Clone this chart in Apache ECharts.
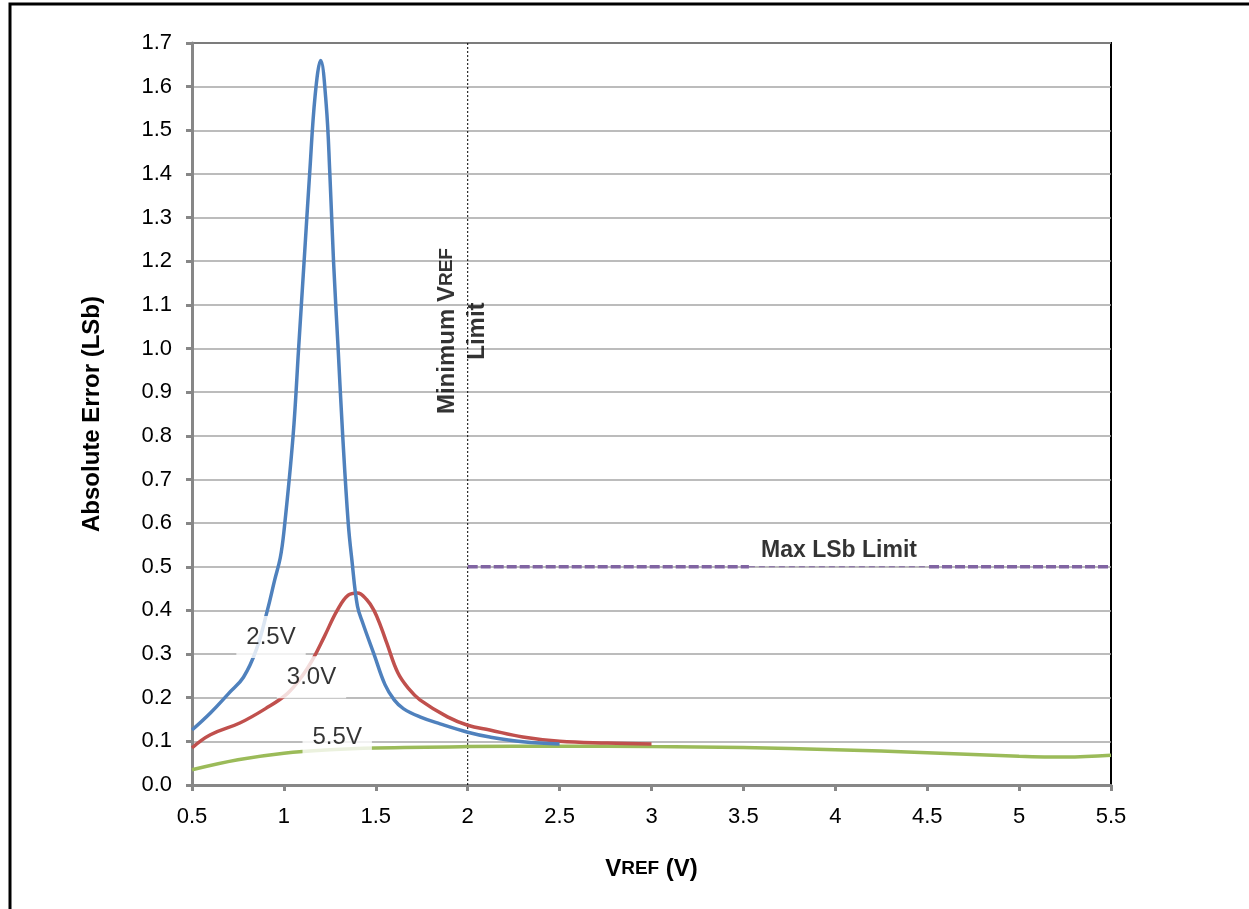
<!DOCTYPE html>
<html>
<head>
<meta charset="utf-8">
<script src="https://cdn.jsdelivr.net/npm/echarts@6/dist/echarts.min.js"></script>
<style>
  html, body { margin: 0; padding: 0; background: #fff; }
  #chart { width: 1249px; height: 909px; }
</style>
</head>
<body>
<div id="chart"></div>
<script>
// curve data: [VREF (V), error (LSb)]
const curve25 = [
  [0.5, 0.126], [0.6, 0.165], [0.7, 0.21], [0.78, 0.247], [0.85, 0.31],
  [0.91, 0.40], [0.95, 0.47], [0.98, 0.52], [1.0, 0.58], [1.05, 0.80],
  [1.08, 1.0], [1.11, 1.2], [1.14, 1.4], [1.17, 1.58], [1.2, 1.66],
  [1.23, 1.56], [1.25, 1.4], [1.27, 1.2], [1.295, 1.0], [1.32, 0.8],
  [1.35, 0.6], [1.37, 0.515], [1.40, 0.41], [1.43, 0.37], [1.49, 0.30],
  [1.55, 0.23], [1.6, 0.195], [1.65, 0.175], [1.74, 0.156], [1.85, 0.14],
  [2.0, 0.121], [2.12, 0.11], [2.3, 0.099], [2.5, 0.094]
];
const curve30 = [
  [0.5, 0.085], [0.6, 0.115], [0.76, 0.142], [0.9, 0.175], [1.02, 0.21],
  [1.1, 0.25], [1.16, 0.29], [1.22, 0.34], [1.29, 0.40], [1.35, 0.435],
  [1.40, 0.44], [1.45, 0.425], [1.49, 0.40], [1.53, 0.36], [1.56, 0.325],
  [1.62, 0.257], [1.68, 0.22], [1.74, 0.195], [1.89, 0.156], [2.0, 0.137],
  [2.12, 0.126], [2.3, 0.11], [2.5, 0.10], [2.76, 0.096], [3.0, 0.094]
];
const curve55 = [
  [0.5, 0.035], [0.75, 0.058], [1.0, 0.073], [1.25, 0.081], [1.5, 0.085],
  [2.0, 0.088], [2.5, 0.089], [3.0, 0.088], [3.5, 0.086], [4.0, 0.081],
  [4.5, 0.074], [5.0, 0.066], [5.25, 0.064], [5.5, 0.068]
];
const limitThickA = [[2.0, 0.5], [3.53, 0.5]];
const limitThin = [[3.53, 0.5], [4.51, 0.5]];
const limitThickB = [[4.51, 0.5], [5.5, 0.5]];
const minVrefLine = [[2.0, 0], [2.0, 1.7]];
// curve name labels: [x, y, text]
const curveLabels = [[0.93, 0.339, '2.5V'], [1.15, 0.247, '3.0V'], [1.29, 0.108, '5.5V']];
const limitLabel = [[4.02, 0.538, 'Max LSb Limit']];
const vrefLabel = [[1.97, 1.04, '{b|Minimum V}{s|REF}\n{b|Limit}']];

const chart = echarts.init(document.getElementById('chart'));
const font = 'Liberation Sans, Arial, sans-serif';

const lineSeries = (data, color, width, type, z) => ({
  type: 'line',
  data: data,
  showSymbol: false,
  symbol: 'none',
  silent: true,
  z: z || 2,
  lineStyle: { color: color, width: width, type: type || 'solid' }
});

chart.setOption({
  animation: false,
  backgroundColor: '#fff',
  textStyle: { fontFamily: font },
  graphic: [{
    type: 'rect',
    shape: { x: 10, y: 4, width: 1300, height: 1000 },
    style: { fill: 'none', stroke: '#000', lineWidth: 3 },
    silent: true
  }],
  grid: {
    left: 192, top: 43, right: 138, bottom: 124,
    show: true, borderColor: '#000', borderWidth: 2
  },
  xAxis: {
    type: 'value',
    min: 0.5, max: 5.5, interval: 0.5,
    name: '{a|V}{s|REF}{a| (V)}',
    nameLocation: 'middle',
    nameGap: 72,
    nameTextStyle: {
      rich: {
        a: { fontFamily: font, fontWeight: 'bold', fontSize: 24, color: '#000' },
        s: { fontFamily: font, fontWeight: 'bold', fontSize: 19, color: '#000' }
      }
    },
    axisLine: { lineStyle: { color: '#878787', width: 3 } },
    axisTick: { show: true, length: 6, lineStyle: { color: '#878787', width: 3 } },
    axisLabel: { color: '#000', fontSize: 22, fontFamily: font, margin: 21, formatter: v => String(v) },
    splitLine: { show: false }
  },
  yAxis: {
    type: 'value',
    min: 0, max: 1.7, interval: 0.1,
    name: 'Absolute Error (LSb)',
    nameLocation: 'middle',
    nameGap: 88,
    nameTextStyle: { color: '#000', fontWeight: 'bold', fontSize: 24, fontFamily: font },
    axisLine: { lineStyle: { color: '#878787', width: 3 } },
    axisTick: { show: true, length: 6, lineStyle: { color: '#878787', width: 3 } },
    axisLabel: { color: '#000', fontSize: 22, fontFamily: font, margin: 20, formatter: v => v.toFixed(1) },
    splitLine: { lineStyle: { color: '#a6a6a6', width: 1.5 } }
  },
  series: [
    lineSeries(minVrefLine, '#000', 1, [2, 2], 1),
    lineSeries(limitThickA, '#8064A2', 3.5, [10, 3]),
    lineSeries(limitThin, '#8064A2', 1, [6, 4]),
    lineSeries(limitThickB, '#8064A2', 3.5, [10, 3]),
    Object.assign(lineSeries(curve55, '#9BBB59', 3.5), { smooth: 0.4 }),
    Object.assign(lineSeries(curve30, '#C0504D', 3.5), { smooth: 0.4 }),
    Object.assign(lineSeries(curve25, '#4F81BD', 3.5), { smooth: 0.4 }),
    {
      type: 'scatter',
      data: curveLabels,
      symbolSize: 0,
      silent: true,
      z: 10,
      label: {
        show: true, position: 'inside',
        formatter: p => p.value[2],
        color: '#000', fontSize: 24, fontFamily: font,
        backgroundColor: '#fff', padding: [9, 10]
      }
    },
    {
      type: 'scatter',
      data: limitLabel,
      symbolSize: 0,
      silent: true,
      z: 10,
      label: {
        show: true, position: 'inside',
        formatter: p => p.value[2],
        color: '#000', fontSize: 23, fontWeight: 'bold', fontFamily: font,
        backgroundColor: '#fff', padding: [2, 6]
      }
    },
    {
      type: 'scatter',
      data: vrefLabel,
      symbolSize: 0,
      silent: true,
      z: 10,
      label: {
        show: true, position: 'inside', rotate: 90,
        align: 'center', verticalAlign: 'middle',
        formatter: p => p.value[2],
        lineHeight: 30,
        rich: {
          b: { fontFamily: font, fontWeight: 'bold', fontSize: 24, color: '#000', lineHeight: 30 },
          s: { fontFamily: font, fontWeight: 'bold', fontSize: 19, color: '#000', lineHeight: 30 }
        }
      }
    }
  ]
});
</script>
</body>
</html>
